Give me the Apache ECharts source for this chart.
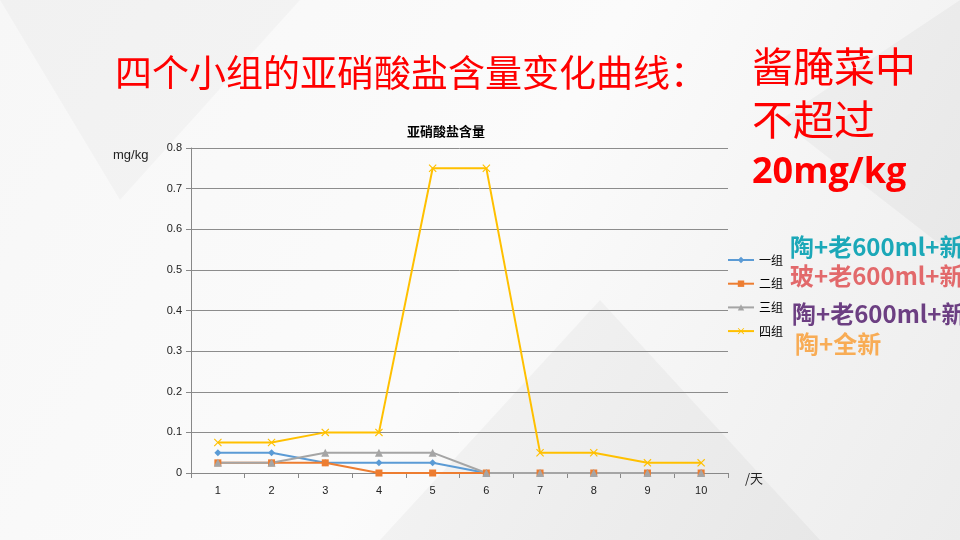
<!DOCTYPE html>
<html><head><meta charset="utf-8">
<script src="https://cdn.jsdelivr.net/npm/echarts@6/dist/echarts.min.js"></script>
<style>html,body{margin:0;padding:0;background:#f3f3f3}#c{width:960px;height:540px}</style>
</head><body><div id="c"></div>
<script>
const days = ['1','2','3','4','5','6','7','8','9','10'];
const seriesNames = ['一组','二组','三组','四组'];
const group1 = [0.05,0.05,0.025,0.025,0.025,0,0,0,0,0];
const group2 = [0.025,0.025,0.025,0,0,0,0,0,0,0];
const group3 = [0.025,0.025,0.05,0.05,0.05,0,0,0,0,0];
const group4 = [0.075,0.075,0.1,0.1,0.75,0.75,0.05,0.05,0.025,0.025];
const colors = ['#5b9bd5','#ed7d31','#a5a5a5','#ffc000'];
const xSym = 'path://M0,1L1,0L5,4L9,0L10,1L6,5L10,9L9,10L5,6L1,10L0,9L4,5Z';
const symbols = ['diamond','rect','triangle',xSym];
const sizes = [7,7,8,8];
const allData = [group1,group2,group3,group4];

const chart = echarts.init(document.getElementById('c'));
const font = '"Noto Sans CJK SC", sans-serif';
chart.setOption({
  backgroundColor: {type:'linear',x:0,y:0,x2:1,y2:1,colorStops:[{offset:0,color:'#f7f7f7'},{offset:0.5,color:'#fbfbfb'},{offset:1,color:'#ececec'}]},
  animation:false,
  color: colors,
  title: {text:'亚硝酸盐含量', left:441, top:120, textAlign:'center',
    textStyle:{fontSize:13,fontWeight:'bold',color:'#000',fontFamily:font}},
  legend: {orient:'vertical', left:722, top:248, itemGap:9.7, itemWidth:26, itemHeight:8,
    textStyle:{fontSize:12,color:'#000',fontFamily:font, lineHeight:14},
    data: seriesNames},
  grid: {left:191, right:232, top:148, bottom:67},
  xAxis: {type:'category', data: days, boundaryGap:true,
    axisLine:{lineStyle:{color:'#888'}},
    axisTick:{show:true, length:5, lineStyle:{color:'#888'}},
    axisLabel:{color:'#222',fontSize:11,margin:12,fontFamily:'Liberation Sans, sans-serif'}},
  yAxis: {type:'value', min:0, max:0.8, interval:0.1,
    axisLine:{show:true,lineStyle:{color:'#888'}},
    axisTick:{show:true,length:5,lineStyle:{color:'#888'}},
    splitLine:{lineStyle:{color:'#8c8c8c'}},
    axisLabel:{color:'#222',fontSize:11,margin:9,fontFamily:'Liberation Sans, sans-serif',
      formatter:v=>v===0?'0':v.toFixed(1)}},
  series: seriesNames.map((n,i)=>({
    name:n, type:'line', data: allData[i], symbol: symbols[i], symbolSize: sizes[i],
    showAllSymbol:true, lineStyle:{width:2,color:colors[i]}, itemStyle:{color:colors[i]}
  })),
  graphic: [
    {type:'polygon', silent:true, z:-10, shape:{points:[[0,0],[300,0],[120,200]]}, style:{fill:'rgba(0,0,0,0.025)'}},
    {type:'polygon', silent:true, z:-10, shape:{points:[[380,540],[600,300],[820,540]]}, style:{fill:'rgba(0,0,0,0.03)'}},
    {type:'polygon', silent:true, z:-10, shape:{points:[[960,0],[960,260],[780,120]]}, style:{fill:'rgba(0,0,0,0.03)'}},
    {type:'text', left:115, top:54, style:{text:'四个小组的亚硝酸盐含量变化曲线：', fill:'#ff0000', font:'37px "Noto Sans CJK SC"'}},
    {type:'text', left:752, top:46, style:{text:'酱腌菜中', fill:'#ff0000', font:'41px "Noto Sans CJK SC"'}},
    {type:'text', left:752, top:99, style:{text:'不超过', fill:'#ff0000', font:'41px "Noto Sans CJK SC"'}},
    {type:'text', left:752, top:155, style:{text:'20mg/kg', fill:'#ff0000', font:'bold 36px "Open Sans", sans-serif'}},
    {type:'text', left:113, top:149, style:{text:'mg/kg', fill:'#222', font:'13px "Liberation Sans", sans-serif'}},
    {type:'text', left:745, top:472, style:{text:'/天', fill:'#222', font:'13px "Noto Sans CJK SC"'}},
    {type:'text', left:790, top:235, style:{text:'陶+老600ml+新', fill:'#1ba8b8', font:'bold 24px "Noto Sans CJK SC"'}},
    {type:'text', left:790, top:264, style:{text:'玻+老600ml+新', fill:'#e2696b', font:'bold 24px "Noto Sans CJK SC"'}},
    {type:'text', left:792, top:302, style:{text:'陶+老600ml+新', fill:'#6c3f82', font:'bold 24px "Noto Sans CJK SC"'}},
    {type:'text', left:795, top:332, style:{text:'陶+全新', fill:'#f8ac55', font:'bold 24px "Noto Sans CJK SC"'}}
  ]
});
</script></body></html>
